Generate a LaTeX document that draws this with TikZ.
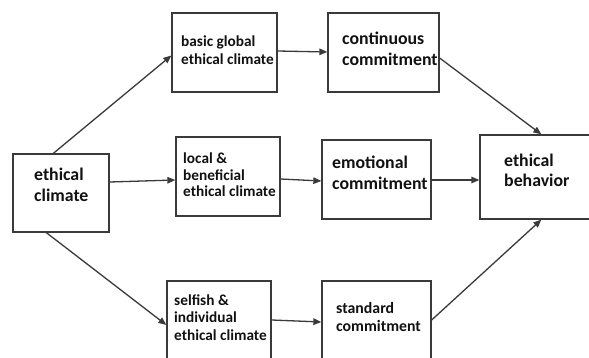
\documentclass[tikz,border=0pt]{standalone}
\usepackage{fontspec}
\setmainfont{Carlito}
\usetikzlibrary{arrows.meta,calc}
\definecolor{edge}{HTML}{3A3A3A}
\definecolor{ink}{HTML}{111111}
\tikzset{
  box/.style={draw=edge, line width=1.3pt, rectangle, inner sep=0pt, fill=white},
  big/.style={anchor=base west, inner sep=0pt, align=left, text=ink,
    font=\fontsize{17.8}{21}\selectfont\bfseries},
  small/.style={anchor=base west, inner sep=0pt, align=left, text=ink,
    font=\fontsize{15.3}{17}\selectfont\bfseries},
  conn/.style={draw=edge, line width=1.3pt, -{Triangle[length=8pt,width=6.5pt]}}
}
\begin{document}
\begin{tikzpicture}[x=1pt,y=-1pt]
\useasboundingbox (0,0) rectangle (589,358);
\clip (0,0) rectangle (589,358);
\fill[white] (0,0) rectangle (589,358);
% boxes
\node[box, minimum width=96pt, minimum height=78pt] (ec) at (61,193) {};
\node[box, minimum width=105pt, minimum height=79pt] (bg) at (224.5,52.5) {};
\node[box, minimum width=111pt, minimum height=79pt] (cc) at (383.5,52.5) {};
\node[box, minimum width=104pt, minimum height=79pt] (lb) at (228,176.5) {};
\node[box, minimum width=109pt, minimum height=79pt] (emo) at (376.5,179.5) {};
\node[box, minimum width=104pt, minimum height=82pt] (sf) at (219,322) {};
\node[box, minimum width=109pt, minimum height=82pt] (sc) at (376.5,322) {};
\node[box, minimum width=112pt, minimum height=84pt] (eb) at (536,177) {};
% texts (anchor = baseline of the last line)
\node[big] (tec) at (34,202) {ethical\\climate};
\node[small, font=\fontsize{15.3}{18}\selectfont\bfseries] (tbg) at (181,65) {basic global\\ethical climate};
\node[big] (tcc) at (342,66) {continuous\\commitment};
\node[small, font=\fontsize{15.3}{16.5}\selectfont\bfseries] (tlb) at (183,197) {local \&\\beneficial\\ethical climate};
\node[big] (temo) at (332,190) {emotional\\commitment};
\node[small, font=\fontsize{15.3}{17.5}\selectfont\bfseries] (tsf) at (174,340) {selfish \&\\individual\\ethical climate};
\node[big, font=\fontsize{15.8}{18}\selectfont\bfseries] (tsc) at (336,331) {standard\\commitment};
\node[big, font=\fontsize{17.8}{20}\selectfont\bfseries] (teb) at (504,187) {ethical\\behavior};
% connectors
\draw[conn] ($(ec.north west)+(41,0)$) -- ($(bg.west)+(0,3)$);
\draw[conn] ($(ec.east)+(0,-11)$) -- ($(lb.west)+(0,3.5)$);
\draw[conn] ($(ec.south west)+(34,0)$) -- ($(sf.west)+(0,3)$);
\draw[conn] ($(bg.east)+(0,-1.5)$) -- ($(cc.west)+(0,-0.5)$);
\draw[conn] ($(lb.east)+(0,2.5)$) -- ($(emo.west)+(0,1.5)$);
\draw[conn] ($(sf.east)+(0,-2)$) -- (sc.west);
\draw[conn] ($(cc.east)+(0,5.5)$) -- ($(eb.north west)+(62,0)$);
\draw[conn] ($(emo.east)+(0,0.5)$) -- ($(eb.west)+(0,3)$);
\draw[conn] ($(sc.east)+(0,-2)$) -- ($(eb.south west)+(62,0)$);
\end{tikzpicture}
\end{document}
